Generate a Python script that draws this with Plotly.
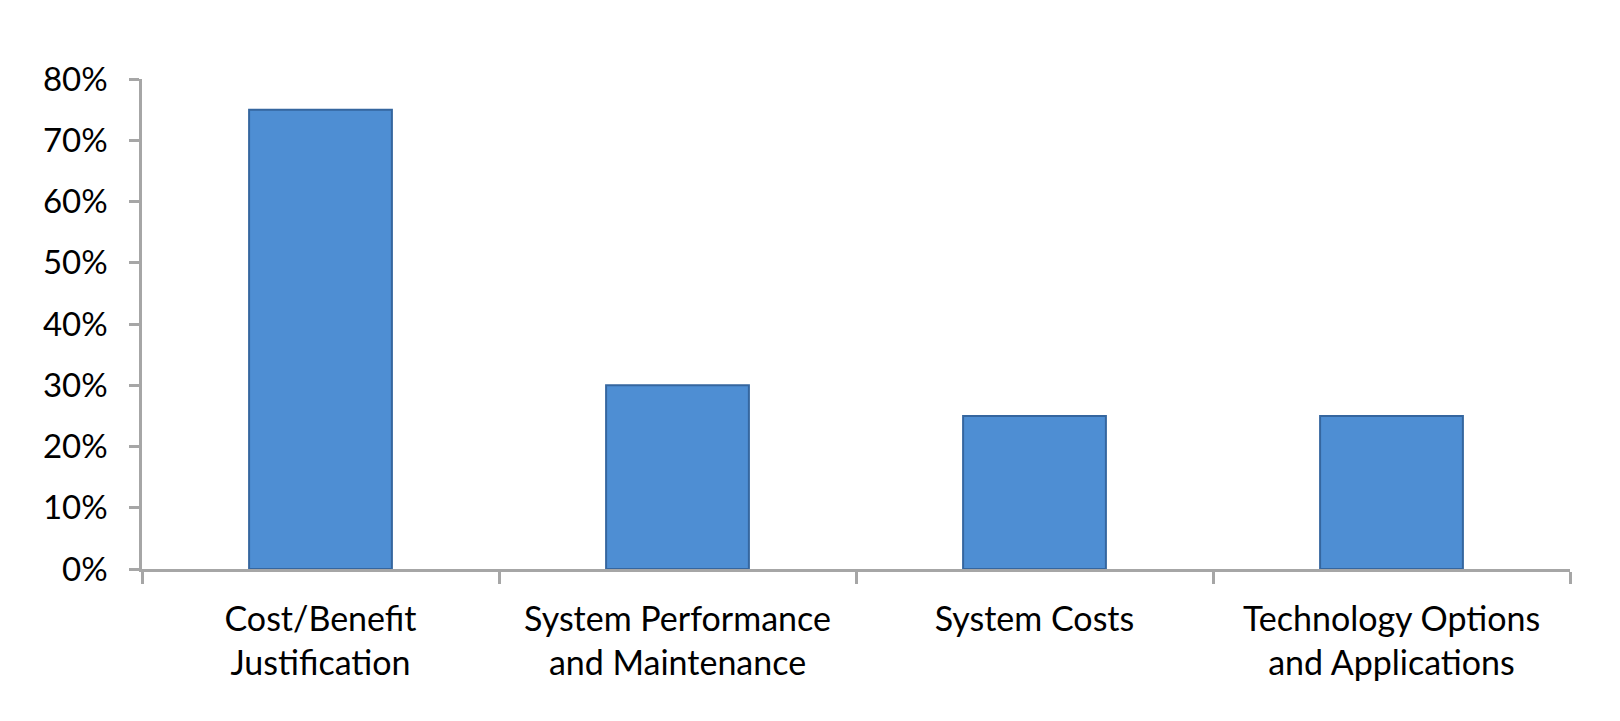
import plotly.graph_objects as go

# =====================
# DATA
# =====================
categories = [
    "Cost/Benefit<br>Justification",
    "System Performance<br>and Maintenance",
    "System Costs",
    "Technology Options<br>and Applications",
]
shares = [0.75, 0.30, 0.25, 0.25]
y_ticks = [0.0, 0.1, 0.2, 0.3, 0.4, 0.5, 0.6, 0.7, 0.8]

# =====================
# FIGURE
# =====================
fig = go.Figure(go.Bar(
    x=categories,
    y=shares,
    width=0.4,
    marker=dict(
        color="#4E8ED3",
        line=dict(color="#35669F", width=2),
    ),
    hovertemplate="%{x}: %{y:.0%}<extra></extra>",
))

axis_gray = "#A6A6A6"
fig.update_xaxes(
    showline=True, linecolor=axis_gray, linewidth=2.5,
    ticks="outside", tickson="boundaries", ticklen=12, tickcolor=axis_gray, tickwidth=2.5,
    showgrid=False, zeroline=False,
    tickfont=dict(size=34, color="black"),
    ticklabelstandoff=18,
)
fig.update_yaxes(
    range=[0, 0.8], tickvals=y_ticks, tickformat=".0%",
    showline=True, linecolor=axis_gray, linewidth=2.5,
    ticks="outside", ticklen=10, tickcolor=axis_gray, tickwidth=2.5,
    showgrid=False, zeroline=False,
    tickfont=dict(size=33, color="black"),
    ticklabelstandoff=15,
)
# page body adds an 8px offset, margins compensate for it
fig.update_layout(
    width=1620, height=721,
    font=dict(family="Lato, Open Sans, sans-serif", color="black"),
    margin=dict(l=134, r=58, t=71, b=160),
    plot_bgcolor="white",
    paper_bgcolor="white",
    showlegend=False,
)

fig.write_html("out.html")
